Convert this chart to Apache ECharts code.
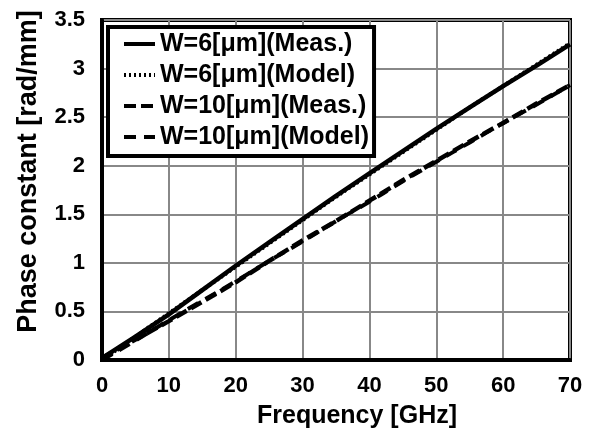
<!DOCTYPE html>
<html>
<head>
<meta charset="utf-8">
<script src="https://cdn.jsdelivr.net/npm/echarts@6/dist/echarts.min.js"></script>
<style>
  html, body { margin: 0; padding: 0; background: #fff; }
  #chart { width: 604px; height: 443px; }
</style>
</head>
<body>
<div id="chart"></div>
<script>
// frequency points [GHz]
let freq = [0, 5, 10, 15, 20, 25, 30, 35, 40, 45, 50, 55, 60, 65, 70];

// phase constant [rad/mm]
let w6Meas   = [0.02, 0.24, 0.47, 0.72, 0.97, 1.21, 1.45, 1.69, 1.92, 2.15, 2.38, 2.60, 2.82, 3.03, 3.25];
let w6Model  = [0.00, 0.24, 0.48, 0.72, 0.96, 1.20, 1.44, 1.68, 1.91, 2.14, 2.37, 2.60, 2.82, 3.04, 3.26];
let w10Meas  = [0.02, 0.21, 0.40, 0.60, 0.80, 1.02, 1.23, 1.43, 1.64, 1.85, 2.05, 2.25, 2.44, 2.64, 2.83];
let w10Model = [0.00, 0.20, 0.41, 0.61, 0.81, 1.02, 1.22, 1.43, 1.63, 1.84, 2.04, 2.24, 2.44, 2.63, 2.83];

let names = ['W=6[μm](Meas.)', 'W=6[μm](Model)', 'W=10[μm](Meas.)', 'W=10[μm](Model)'];

function pairs(ys) {
    return freq.map((f, i) => [f, ys[i]]);
}

let font = 'Liberation Sans, Arial, sans-serif';

let chart = echarts.init(document.getElementById('chart'), null, {renderer: 'canvas'});

let option = {
    animation: false,
    backgroundColor: '#fff',
    grid: {
        left: 102,
        right: 34,
        top: 20,
        bottom: 83,
        show: true,
        borderColor: '#000',
        borderWidth: 4,
        backgroundColor: 'transparent'
    },
    legend: {
        orient: 'vertical',
        left: 108,
        top: 27,
        data: names,
        backgroundColor: '#fff',
        borderColor: '#000',
        borderWidth: 4,
        borderRadius: 0,
        padding: [4, 5, 6, 14],
        itemGap: 5,
        itemWidth: 31,
        itemHeight: 26,
        itemStyle: {color: 'transparent', borderColor: 'transparent', opacity: 0},
        lineStyle: {width: 4},
        textStyle: {
            fontFamily: font,
            fontWeight: 'bold',
            fontSize: 25,
            lineHeight: 26,
            color: '#000'
        }
    },
    xAxis: {
        type: 'value',
        min: 0,
        max: 70,
        interval: 10,
        name: 'Frequency [GHz]',
        nameLocation: 'middle',
        nameGap: 44,
        nameTextStyle: {fontFamily: font, fontWeight: 'bold', fontSize: 25, color: '#000', padding: [0, 0, 0, 42]},
        axisLine: {show: true, lineStyle: {color: '#000', width: 4}},
        axisTick: {show: false},
        axisLabel: {fontFamily: font, fontWeight: 'bold', fontSize: 22, color: '#000', margin: 15},
        splitLine: {show: true, lineStyle: {color: '#888', width: 2}}
    },
    yAxis: {
        type: 'value',
        min: 0,
        max: 3.5,
        interval: 0.5,
        name: 'Phase constant [rad/mm]',
        nameLocation: 'middle',
        nameGap: 60,
        nameTextStyle: {fontFamily: font, fontWeight: 'bold', fontSize: 27, color: '#000', padding: [0, 0, 0, 37]},
        axisLine: {show: true, lineStyle: {color: '#000', width: 4}},
        axisTick: {show: false},
        axisLabel: {fontFamily: font, fontWeight: 'bold', fontSize: 22, color: '#000', margin: 17},
        splitLine: {show: true, lineStyle: {color: '#888', width: 2}}
    },
    series: [
        {
            name: names[1], type: 'line', data: pairs(w6Model), symbol: 'none', smooth: true,
            lineStyle: {color: '#000', width: 4, type: [2, 3]}, itemStyle: {color: '#000'}
        },
        {
            name: names[0], type: 'line', data: pairs(w6Meas), symbol: 'none',
            lineStyle: {color: '#000', width: 4.5, type: 'solid'}, itemStyle: {color: '#000'}
        },
        {
            name: names[3], type: 'line', data: pairs(w10Model), symbol: 'none', smooth: true,
            lineStyle: {color: '#000', width: 4, type: [12, 8]}, itemStyle: {color: '#000'}
        },
        {
            name: names[2], type: 'line', data: pairs(w10Meas), symbol: 'none',
            lineStyle: {color: '#000', width: 4.5, type: [12, 5]}, itemStyle: {color: '#000'}
        }
    ]
};

chart.setOption(option);
</script>
</body>
</html>
